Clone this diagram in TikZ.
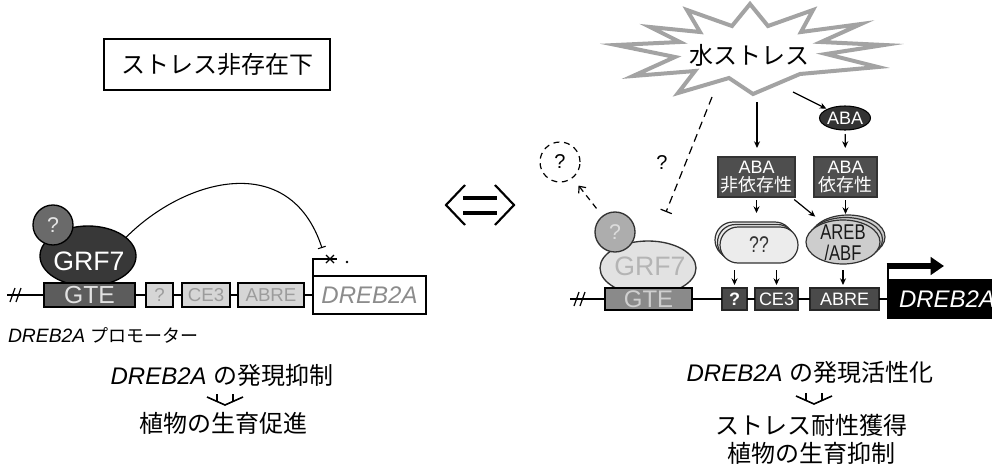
\documentclass[tikz,border=0pt]{standalone}
\usepackage{fontspec}
\setmainfont{Liberation Sans}
\newfontfamily\jp{Noto Sans CJK JP}
\newfontfamily\narrowsf[FakeStretch=0.78]{Liberation Sans}
\usetikzlibrary{arrows.meta,shapes.geometric,calc}
\newcommand\pw[1]{#1*0.75pt}
\newcommand\fsz[2]{\fontsize{#1}{#2}\selectfont}
\definecolor{grfdark}{HTML}{383838}
\definecolor{qdark}{HTML}{6A6A6A}
\definecolor{gtedark}{HTML}{5C5C5C}
\definecolor{gtedarktext}{HTML}{E2E2E2}
\definecolor{lboxfill}{HTML}{D6D6D6}
\definecolor{lboxtext}{HTML}{9C9C9C}
\definecolor{rboxfill}{HTML}{4A4A4A}
\definecolor{abafill}{HTML}{333333}
\definecolor{ababoxfill}{HTML}{4E4E4E}
\definecolor{qqfill}{HTML}{ECECEC}
\definecolor{arebfill}{HTML}{CDCDCD}
\definecolor{grflight}{HTML}{E2E2E2}
\definecolor{grflighttext}{HTML}{B4B4B4}
\definecolor{qlight}{HTML}{ADADAD}
\definecolor{qlighttext}{HTML}{DCDCDC}
\definecolor{gtemid}{HTML}{8A8A8A}
\definecolor{gtemidtext}{HTML}{CFCFCF}
\definecolor{burst}{HTML}{A3A3A3}
\newcommand\downsym[2]{%
  \draw[line width=2.2pt] (#1-8,#2) -- (#1-8,#2+7) (#1+8,#2) -- (#1+8,#2+7);
  \draw[line width=1.2pt] (#1-18,#2+3) -- (#1,#2+11) -- (#1+18,#2+3);}
\begin{document}
\begin{tikzpicture}[x=0.75pt,y=-0.75pt,
  every node/.style={inner sep=0pt,outer sep=0pt},
  sz/.style 2 args={minimum width=\pw{#1},minimum height=\pw{#2}},
  dna/.style={line width=0.9pt},
  elem/.style={draw=black,line width=1.1pt},
  elemL/.style={elem,fill=lboxfill,text=lboxtext,font=\fsz{14}{16}},
  elemR/.style={elem,draw=black!85,fill=rboxfill,text=white,font=\fsz{13.5}{16}},
  arr/.style={line width=0.9pt,-{Stealth[length=5pt,width=4.5pt]}},
  jpt/.style={font=\jp\fsz{18}{22}},
  ababox/.style={fill=ababoxfill,draw=black!80,line width=0.8pt,text=white,align=center,font=\fsz{13.5}{14}},
  rr/.style={rectangle,rounded corners=\pw{18},sz={78}{36},draw=black!80,line width=0.9pt,fill=qqfill},
  ell/.style={ellipse,sz={74}{44},draw=black!80,line width=0.9pt,fill=arebfill},
]
\useasboundingbox (0,0) rectangle (992,468);
\clip (0,0) rectangle (992,468);

% ---------------- left panel ----------------
\node[draw,line width=1.1pt,sz={226}{51},jpt] (title) at (217,64.5) {ストレス非存在下};

\node[ellipse,draw,line width=1pt,fill=grfdark,sz={96}{60}] (grfL) at (88,256) {};
\node[font=\fsz{20}{22},text=white] (grfLt) at (89,261) {GRF7};
\node[circle,draw,line width=1pt,fill=qdark,minimum size=\pw{40},font=\fsz{16}{18},text=white!90!black] (qcL) at (53,225) {?};

\coordinate (lsL) at (7,295);
\node[elem,fill=gtedark,text=gtedarktext,font=\fsz{18.5}{20},sz={91}{24}] (gteL) at (89.5,295) {GTE};
\node[elemL,sz={27}{24}] (qL) at (159.5,295) {?};
\node[elemL,sz={48}{24}] (ce3L) at (206,295) {CE3};
\node[elemL,sz={66}{24}] (abreL) at (271,295) {ABRE};
\node[elem,fill=white,sz={113}{38},font=\itshape\fsz{18}{20},text=black!45] (dL) at (369.5,295) {DREB2A};
\draw[dna] (lsL) -- (gteL.west) (gteL.east) -- (qL.west) (qL.east) -- (ce3L.west)
  (ce3L.east) -- (abreL.west) (abreL.east) -- (dL.west);
\draw[dna] (10,302) -- (15,288) (16,302) -- (21,288);

\coordinate (inhL) at (322,248);
\draw[line width=0.8pt,-{Bar[width=6pt]}] (grfL.26) .. controls (185,178) and (290,150) .. (inhL);
\coordinate (tssL) at (337,259);
\draw[line width=0.8pt] (dL.north west) |- (tssL);
\draw[line width=1pt] (326,255) -- (334,263) (326,263) -- (334,255);
\fill (347,262) circle[radius=1.3];

\node[anchor=west] (promL) at (8,335) {\fsz{14.5}{16}\itshape DREB2A\ {\upshape\jp\fsz{13.5}{16}プロモーター}};
\node[font=\fsz{18}{22}] (resL) at (222,375) {\itshape DREB2A\ {\upshape\jp の発現抑制}};
\downsym{225}{394}
\node[jpt] (effL) at (223,423) {植物の生育促進};

% ---------------- middle symbol ----------------
\draw[line width=1.6pt] (465,185) -- (446,205) -- (465,225);
\draw[line width=3pt] (463,198) -- (497,198) (463,213) -- (497,213);
\draw[line width=1.6pt] (495,185) -- (514,205) -- (495,225);

% ---------------- right panel ----------------
\draw[line width=3pt,draw=burst,fill=white,line join=miter,miter limit=20]
  (616,45) -- (680,42) -- (650,27) -- (700,32) -- (687,10) -- (732,26) -- (750,4)
  -- (768,26) -- (813,10) -- (801,32) -- (861,24) -- (821,42) -- (884,45)
  -- (826,54) -- (878,67) -- (800,74) -- (753,94) -- (729,78) -- (678,93)
  -- (695,71) -- (633,76) -- (675,57) -- cycle;
\node[jpt] (stress) at (749,55) {水ストレス};

\node[ellipse,fill=abafill,draw=black,line width=0.8pt,sz={50}{24},text=white,font=\fsz{13.5}{15}] (aba) at (845,118) {ABA};
\node[ababox,sz={77}{40}] (indep) at (756.5,177) {ABA\\{\jp 非依存性}};
\node[ababox,sz={63}{40}] (dep) at (845.5,177) {ABA\\{\jp 依存性}};

\node[rr] (qq2) at (754,240) {};
\node[rr] (qq1) at (756.5,242.5) {};
\node[rr,text=black!80,font=\narrowsf\fsz{17}{17}] (qq) at (759,245) {??};

\node[ell] (areb2) at (848,237) {};
\node[ell] (areb1) at (845.5,239.5) {};
\node[ell] (areb) at (843,242) {};
\node[align=center,font=\narrowsf\fsz{16}{15.5},text=black!90] (arebt) at (843,243) {AREB\\/ABF};

\node[ellipse,draw=black!80,line width=1pt,fill=grflight,sz={96}{54}] (grfR) at (648,268) {};
\node[font=\fsz{20}{22},text=grflighttext] (grfRt) at (650,266) {GRF7};
\node[circle,draw=black!80,line width=1pt,fill=qlight,minimum size=\pw{40},font=\fsz{16}{18},text=qlighttext] (qcR) at (615,232) {?};

\coordinate (lsR) at (570,299);
\node[elem,fill=gtemid,text=gtemidtext,font=\fsz{18}{20},sz={87}{22}] (gteR) at (648.5,299) {GTE};
\node[elemR,font=\bfseries\fsz{13.5}{16},sz={25}{22}] (qR) at (734.5,299) {?};
\node[elemR,sz={43}{22}] (ce3R) at (776.5,299) {CE3};
\node[elemR,sz={69}{22}] (abreR) at (844.5,299) {ABRE};
\node[fill=black,draw=black,line width=1pt,sz={117}{38}] (dR) at (946.5,299) {};
\node[anchor=west,font=\itshape\fsz{18}{20},text=white] (dRt) at (899,299) {DREB2A};
\draw[dna] (lsR) -- (gteR.west) (gteR.east) -- (qR.west) (qR.east) -- (ce3R.west)
  (ce3R.east) -- (abreR.west) (abreR.east) -- (dR.west);
\draw[dna] (574,306) -- (579,292) (580,306) -- (585,292);

\coordinate (bendR) at (888,266);
\coordinate (tipR) at (944,266);
\draw[line width=2pt] (dR.north west) -- (bendR);
\draw[line width=4.5pt,-{Triangle[length=10pt,width=13pt]}] ([xshift=-1pt]bendR) -- (tipR);

% arrows
\coordinate (sb1) at (757,102);
\coordinate (sb2) at (793,92);
\draw[arr,shorten >=\pw{9}] (sb1) -- (sb1 |- indep.north);
\draw[arr,shorten >=1pt] (sb2) -- (aba);
\draw[arr,shorten <=\pw{4},shorten >=\pw{9}] (aba) -- (dep);
\draw[arr,shorten <=\pw{3},shorten >=\pw{9}] (indep) -- (indep |- qq2.north);
\draw[arr,shorten <=\pw{4},shorten >=\pw{8}] (indep.330) -- (areb2.150);
\draw[arr,shorten <=\pw{3},shorten >=\pw{1}] (dep) -- (dep |- areb2.north);
\draw[arr,shorten <=\pw{7},shorten >=\pw{3}] (qq.south -| qR) -- (qR.north);
\draw[arr,shorten <=\pw{7},shorten >=\pw{3}] (qq.south -| ce3R) -- (ce3R.north);
\draw[arr,shorten <=\pw{6},shorten >=\pw{3}] (areb.south) -- (areb.south |- abreR.north);

% dashed inhibition and unknown factor
\coordinate (sb3) at (712,97);
\coordinate (inhR) at (666,212);
\draw[line width=0.9pt,dash pattern=on 6pt off 4pt,-{Bar[width=9pt]}] (sb3) -- (inhR);
\node[font=\fsz{15}{17}] (qlab) at (662,163) {?};
\node[circle,draw,dash pattern=on 4.5pt off 3.5pt,line width=0.9pt,minimum size=\pw{40},font=\fsz{15}{17}] (unk) at (560,162) {?};
\draw[line width=0.9pt,dash pattern=on 4.5pt off 3.5pt,-{Straight Barb[length=4pt,width=7pt]},shorten <=\pw{10},shorten >=\pw{10}] (qcR) -- (unk);

% bottom texts
\node[font=\fsz{18}{22}] (resR) at (810,372) {\itshape DREB2A\ {\upshape\jp の発現活性化}};
\downsym{814}{393}
\node[jpt] (effR1) at (811,425) {ストレス耐性獲得};
\node[jpt] (effR2) at (811,453) {植物の生育抑制};
\end{tikzpicture}
\end{document}
